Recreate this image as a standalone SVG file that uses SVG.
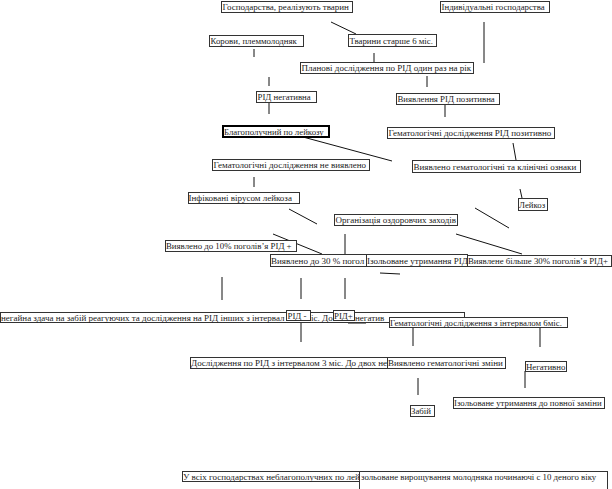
<svg xmlns="http://www.w3.org/2000/svg" width="612" height="489" viewBox="0 0 612 489">
<defs>
<style>
rect.b{fill:#fff;stroke:#333;stroke-width:1}
rect.t{fill:#fff;stroke:#000;stroke-width:2}
text{font-family:"Liberation Serif","DejaVu Serif",serif;font-size:8.8px;fill:#222}
text.w{font-size:9px}
#connectors line{stroke:#111;stroke-width:1}
</style>
</defs>
<rect width="612" height="489" fill="#fff"/>
<g id="connectors">
<line x1="331" y1="22" x2="356" y2="34"/>
<line x1="254" y1="49" x2="254" y2="57"/>
<line x1="374" y1="53" x2="374" y2="62"/>
<line x1="484" y1="22" x2="484" y2="63"/>
<line x1="269" y1="77" x2="269" y2="86"/>
<line x1="427" y1="76" x2="427" y2="87"/>
<line x1="269" y1="103" x2="269" y2="114"/>
<line x1="445" y1="99" x2="445" y2="117"/>
<line x1="303" y1="137" x2="392" y2="161"/>
<line x1="513" y1="143" x2="516" y2="160"/>
<line x1="520" y1="189" x2="522" y2="198"/>
<line x1="254" y1="177" x2="254" y2="187"/>
<line x1="289" y1="209" x2="317" y2="224"/>
<line x1="273" y1="234" x2="322" y2="254"/>
<line x1="345" y1="234" x2="345" y2="254"/>
<line x1="456" y1="234" x2="522" y2="254"/>
<line x1="475" y1="208" x2="509" y2="228"/>
<line x1="380" y1="273" x2="400" y2="274"/>
<line x1="222" y1="277" x2="222" y2="300"/>
<line x1="301" y1="278" x2="301" y2="299"/>
<line x1="345" y1="278" x2="345" y2="299"/>
<line x1="301" y1="322" x2="301" y2="342"/>
<line x1="413" y1="328" x2="413" y2="346"/>
<line x1="540" y1="328" x2="540" y2="347"/>
<line x1="418" y1="378" x2="418" y2="395"/>
<line x1="525" y1="371" x2="525" y2="388"/>
<line x1="348" y1="323" x2="366" y2="323"/>
</g>
<g id="n1"><rect class="b" x="221.5" y="1.5" width="131" height="11"/><text class="w" x="222.5" y="10">Господарства, реалізують тварин</text></g>
<g id="n2"><rect class="b" x="440.5" y="1.5" width="109" height="11"/><text x="441.5" y="10">Індивідуальні господарства</text></g>
<g id="n3"><rect class="b" x="209.5" y="35.5" width="94" height="11"/><text x="210.5" y="44">Корови, племмолодняк</text></g>
<g id="n4"><rect class="b" x="348.5" y="34.5" width="88" height="12"/><text x="349.5" y="43.5">Тварини старше 6 міс.</text></g>
<g id="n5"><rect class="b" x="300.5" y="62.5" width="173" height="11"/><text class="w" x="301.5" y="71">Планові дослідження по РІД один раз на рік</text></g>
<g id="n6"><rect class="b" x="256.5" y="91.5" width="60" height="11"/><text x="257.5" y="100">РІД негативна</text></g>
<g id="n7"><rect class="b" x="396.5" y="93.5" width="103" height="11"/><text x="397.5" y="102">Виявлення РІД позитивна</text></g>
<g id="n8"><rect class="t" x="223" y="126" width="106" height="11"/><text x="224" y="134.5">Благополучний по лейкозу</text></g>
<g id="n9"><rect class="b" x="387.5" y="127.5" width="167" height="11"/><text class="w" x="388.5" y="136">Гематологічні дослідження РІД позитивно</text></g>
<g id="n10"><rect class="b" x="212.5" y="159.5" width="157" height="11"/><text class="w" x="213.5" y="168">Гематологічні дослідження не виявлено</text></g>
<g id="n11"><rect class="b" x="412.5" y="160.5" width="168" height="12"/><text class="w" x="413.5" y="169.5">Виявлено гематологічні та клінічні ознаки</text></g>
<g id="n12"><rect class="b" x="518.5" y="198.5" width="29" height="12"/><text x="519" y="207.5">Лейкоз</text></g>
<g id="n13"><rect class="b" x="188.5" y="192.5" width="111" height="11"/><text class="w" x="188.5" y="201">Інфіковані вірусом лейкоза</text></g>
<g id="n14"><rect class="b" x="334.5" y="214.5" width="123" height="11"/><text class="w" x="335.5" y="223">Організація оздоровчих заходів</text></g>
<g id="n15"><rect class="b" x="165.5" y="240.5" width="131" height="11"/><text x="166" y="249">Виявлено до 10% поголів’я РІД +</text></g>
<g id="n16"><rect class="b" x="270.5" y="254.5" width="130" height="12"/><text class="w" x="271" y="263.5">Виявлено до 30 % погол</text></g>
<g id="n17"><rect class="b" x="366.5" y="254.5" width="101" height="12"/><text class="w" x="367" y="263.5">Ізольоване утримання РІД</text></g>
<g id="n18"><rect class="b" x="467.5" y="255.5" width="144" height="11"/><text x="468" y="264">Виявлене більше 30% поголів’я РІД+</text></g>
<g id="n19"><rect class="b" x="0.5" y="312.5" width="464" height="10"/><text class="w" x="1" y="320.5">негайна здача на забій реагуючих та дослідження на РІД інших з інтервал</text><text class="w" x="311" y="320.5">іс. До</text><text class="w" x="355" y="320.5">негатив</text></g>
<g id="n20"><rect class="b" x="286.5" y="310.5" width="24" height="10"/><text x="287.5" y="318.5">РІД -</text></g>
<g id="n21"><rect class="b" x="333.5" y="310.5" width="21" height="10"/><text x="334" y="318.5">РІД+</text></g>
<g id="n22"><rect class="b" x="389.5" y="317.5" width="178" height="10"/><text x="390" y="325.5">Гематологічні дослідження з інтервалом 6міс.</text></g>
<g id="n23"><rect class="b" x="190.5" y="357.5" width="200" height="11"/><text class="w" x="191" y="366">Дослідження по РІД з інтервалом 3 міс. До двох не</text></g>
<g id="n24"><rect class="b" x="387.5" y="357.5" width="118" height="11"/><text class="w" x="388" y="366">Виявлено гематологічні зміни</text></g>
<g id="n25"><rect class="b" x="410.5" y="405.5" width="24" height="11"/><text x="411" y="414">Забій</text></g>
<g id="n26"><rect class="b" x="525.5" y="361.5" width="41" height="10"/><text x="526" y="369.5">Негативно</text></g>
<g id="n27"><rect class="b" x="453.5" y="397.5" width="151" height="11"/><text x="454" y="406">Ізольоване утримання до повної заміни</text></g>
<g id="n28"><rect class="b" x="182.5" y="471.5" width="190" height="10"/><text class="w" x="183" y="479.5">У всіх господарствах неблагополучних по лей</text></g>
<g id="n29"><rect class="b" x="359.5" y="471.5" width="248" height="30"/><text x="361" y="479.5">зольоване вирощування молодняка починаючі с 10 деного віку</text></g>
</svg>
